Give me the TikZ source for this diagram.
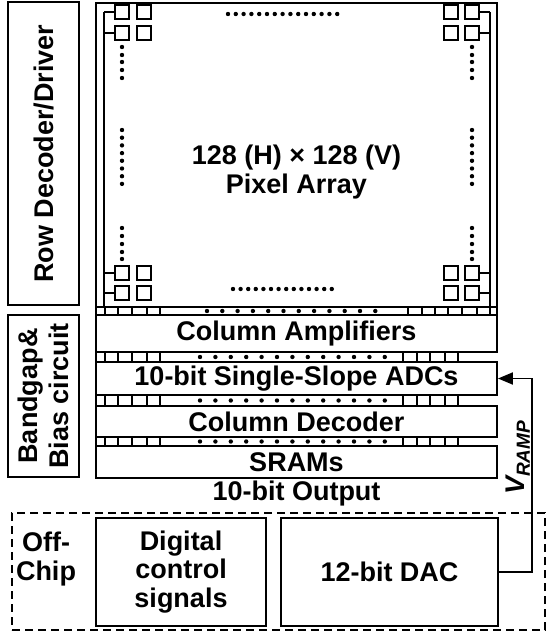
\documentclass[tikz,border=0pt]{standalone}
\usepackage{fontspec}
\setmainfont{Liberation Sans}
\usetikzlibrary{arrows.meta,calc}
\begin{document}
\begin{tikzpicture}[x=1pt,y=-1pt,line width=1.9pt,
  lbl/.style={font=\fontsize{27}{28.5}\selectfont\bfseries, align=center, inner sep=0pt},
  blk/.style={draw, lbl, minimum width=#1},
  cell/.style={draw, line width=1.7pt},
  dashbox/.style={draw, dash pattern=on 8pt off 5pt, line width=1.9pt}]
\useasboundingbox (0,0) rectangle (547,636);

% left blocks
\node[draw, lbl, rotate=90, minimum width=303pt, minimum height=71pt] (rowdec) at (43.5,153.5) {Row Decoder/Driver};
\node[draw, lbl, rotate=90, minimum width=162pt, minimum height=71pt, font=\fontsize{27}{31}\selectfont\bfseries] (bandgap) at (43.5,396) {Bandgap\&\\Bias circuit};

% pixel array
\node[draw, minimum width=401pt, minimum height=304pt, inner sep=0pt] (array) at (296.5,155) {};
\node[lbl] (arraytxt) at (296.5,172) {128 (H) × 128 (V)\\Pixel Array};
\draw (104,12) -- (104,307);
\draw (490,12) -- (490,307);
\foreach \y in {12,33,273,293} {
  \draw (104,\y) -- (115,\y);
  \draw (479,\y) -- (490,\y);
}
\foreach \x in {115,137,444,465} \foreach \y in {5,26,266,286}
  \draw[cell] (\x,\y) rectangle ++(14,14);
% vertical dots
\foreach \x in {122,472} {
  \foreach \y in {47,55,62,70,78} \fill (\x,\y) circle (2.2pt);
  \foreach \k in {0,...,7} \fill (\x,130+7.7*\k) circle (2.2pt);
  \foreach \y in {228,236,244,252,259} \fill (\x,\y) circle (2.2pt);
}
% horizontal dots
\foreach \k in {0,...,14} \fill (228+7.8*\k,14) circle (2.2pt);
\foreach \k in {0,...,13} \fill (233+7.6*\k,289) circle (2.2pt);

% column blocks
\node[blk=401pt, minimum height=37pt] (colamp) at (296.5,333.5) {Column Amplifiers};
\node[blk=401pt, minimum height=33pt] (adc) at (296.5,378.5) {10-bit Single-Slope ADCs};
\node[blk=401pt, minimum height=31pt] (coldec) at (296.5,421.5) {Column Decoder};
\node[blk=401pt, minimum height=32pt] (sram) at (296.5,462) {SRAMs};
\node[lbl] (out) at (296.5,494) {10-bit Output};

% bus strips
\draw (96,307) rectangle (497,315);
\foreach \x in {105,118,132,147,160,408,422,435,448,462,477,490} \draw (\x,307) -- (\x,315);
\foreach \k in {0,...,11} \fill (207+15.3*\k,311) circle (2.2pt);
\foreach \ya/\yb in {352/362,395/406,437/446} {
  \draw (96,\ya) rectangle (458,\yb);
  \foreach \x in {105,118,132,147,160,403,417,430,445} \draw (\x,\ya) -- (\x,\yb);
  \foreach \k in {0,...,12} \fill (200+15.4*\k,{(\ya+\yb)/2}) circle (2.2pt);
}

% off-chip
\node[dashbox, minimum width=533pt, minimum height=117pt, inner sep=0pt] (offchip) at (278.5,571.5) {};
\node[lbl] (offtxt) at (46,559) {Off-\\Chip};
\node[blk=170pt, minimum height=108pt] (dig) at (181,572) {Digital\\control\\signals};
\node[blk=217pt, minimum height=108pt] (dac) at (389.5,572) {12-bit DAC};

\draw[-{Triangle[length=15pt,width=12pt]}] (dac.east) -- ++(33,0) |- (adc.east);
\node[rotate=90, inner sep=0pt] (vramp) at (518,458) {\fontsize{27}{28}\selectfont\bfseries\itshape V\raisebox{-5pt}{\fontsize{19}{20}\selectfont RAMP}};
\end{tikzpicture}
\end{document}
